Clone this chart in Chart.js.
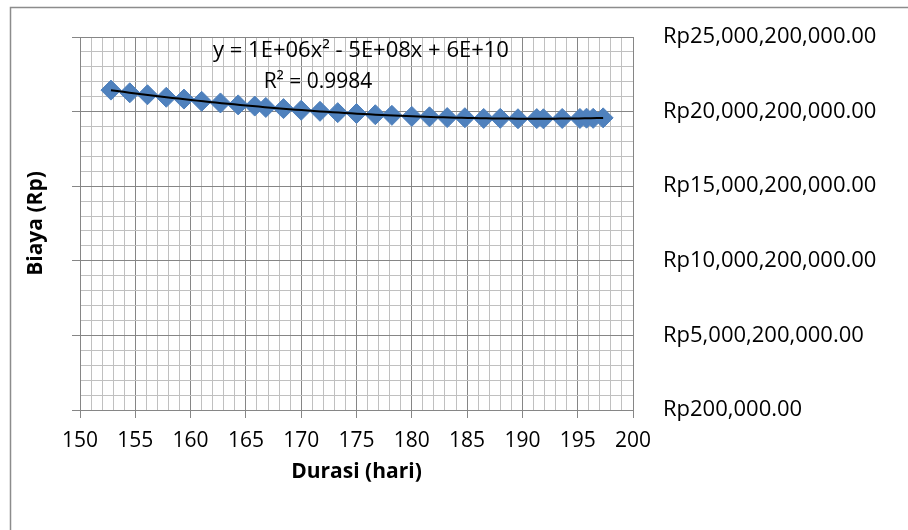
<!DOCTYPE html>
<html><head><meta charset="utf-8">
<script src="https://cdn.jsdelivr.net/npm/chart.js@4"></script>
<style>html,body{margin:0;padding:0;background:#fff}#wrap{width:908px;height:530px;position:relative}</style>
</head><body><div id="wrap"><canvas id="c" width="908" height="530"></canvas></div>
<script>
// ---- data ----
const durasi = [152.8,154.5,156.1,157.8,159.4,161.0,162.7,164.3,165.8,166.8,168.4,170.0,171.7,173.3,175.0,176.7,178.2,180.0,181.6,183.2,184.8,186.5,188.0,189.6,191.3,191.9,193.6,195.2,195.8,196.4,197.3];
const biaya = [21440000000,21260000000,21130000000,20960000000,20840000000,20690000000,20580000000,20450000000,20370000000,20280000000,20200000000,20090000000,20020000000,19930000000,19870000000,19790000000,19750000000,19680000000,19650000000,19600000000,19590000000,19540000000,19550000000,19520000000,19530000000,19520000000,19540000000,19540000000,19560000000,19550000000,19580000000];
const xMin = 150, xMax = 200, xMajor = 5, xMinor = 1;
const yTickValues = [200000,5000200000,10000200000,15000200000,20000200000,25000200000];
const yMinorStep = 1000000000;
const trendText = ['y = 1E+06x\u00B2 - 5E+08x + 6E+10', 'R\u00B2 = 0.9984'];
const xTitle = 'Durasi (hari)';
const yTitle = 'Biaya (Rp)';

// ---- quadratic least-squares trendline (as Excel does) ----
function fitQuad(xs, ys){
  const c = 175, n = xs.length;
  let S=[0,0,0,0,0], T=[0,0,0];
  for(let i=0;i<n;i++){const u=xs[i]-c;let p=1;for(let k=0;k<5;k++){S[k]+=p;p*=u;}T[0]+=ys[i];T[1]+=ys[i]*u;T[2]+=ys[i]*u*u;}
  const A=[[S[0],S[1],S[2],T[0]],[S[1],S[2],S[3],T[1]],[S[2],S[3],S[4],T[2]]];
  for(let i=0;i<3;i++){for(let j=i+1;j<3;j++){const f=A[j][i]/A[i][i];for(let k=i;k<4;k++)A[j][k]-=f*A[i][k];}}
  const r=[0,0,0];
  for(let i=2;i>=0;i--){let s=A[i][3];for(let k=i+1;k<3;k++)s-=A[i][k]*r[k];r[i]=s/A[i][i];}
  return x=>{const u=x-c;return r[0]+r[1]*u+r[2]*u*u;};
}
const fq = fitQuad(durasi, biaya);
const x0 = Math.min(...durasi), x1 = Math.max(...durasi);
const trendPts = [];
for(let i=0;i<=80;i++){const x=x0+(x1-x0)*i/80;trendPts.push({x:x,y:fq(x)});}

const yMin = yTickValues[0], yMax = yTickValues[yTickValues.length-1];
const MAJOR='#868686', MINOR='#c0c0c0';
const FONT="'Open Sans', sans-serif";

const bgPlugin = {
  id:'bg',
  beforeDraw(chart){const c=chart.ctx;c.save();c.fillStyle='#fff';c.fillRect(0,0,chart.width,chart.height);
    c.strokeStyle='#8c8c8c';c.lineWidth=1.5;c.strokeRect(10.5,7.5,1200,1200);c.restore();}
};
const eqPlugin = {
  id:'eq',
  afterDatasetsDraw(chart){const c=chart.ctx;c.save();
    c.fillStyle='#000';c.textAlign='center';c.textBaseline='middle';
    c.font="22px "+FONT;c.fillText(trendText[0], 361, 51);
    c.font="21px "+FONT;c.fillText(trendText[1], 318, 82);
    c.restore();}
};
const noPad = s=>{s.paddingTop=0;s.paddingBottom=0;};

new Chart(document.getElementById('c'), {
  data:{datasets:[
    {type:'line', data:trendPts, borderColor:'#000', borderWidth:2, pointRadius:0, fill:false, order:0, tension:0},
    {type:'scatter', data:durasi.map((d,i)=>({x:d,y:biaya[i]})), pointStyle:'rectRot', pointRadius:10, pointHoverRadius:10,
     backgroundColor:'#4f81bd', borderColor:'#4f81bd', borderWidth:1, order:1}
  ]},
  options:{
    responsive:false, animation:false, devicePixelRatio:1,
    layout:{padding:{top:37,left:0,right:0,bottom:0}},
    plugins:{legend:{display:false}, tooltip:{enabled:false}},
    scales:{
      x:{type:'linear', position:'bottom', min:xMin, max:xMax,
        afterBuildTicks:s=>{const t=[];for(let v=xMin;v<=xMax;v+=xMinor)t.push({value:v});s.ticks=t;},
        ticks:{autoSkip:false, maxRotation:0, padding:10, color:'#000', font:{family:FONT,size:21},
          callback:v=> (v%xMajor===0? String(v):'')},
        grid:{color:c=>(c.tick && c.tick.value%xMajor===0?MAJOR:MINOR), tickColor:c=>(c.tick && c.tick.value%xMajor===0?MAJOR:'rgba(0,0,0,0)'), tickLength:8, lineWidth:1},
        border:{color:MAJOR, width:1},
        title:{display:true, text:xTitle, color:'#000', font:{family:FONT,size:21,weight:'bold'}, padding:{top:0,bottom:45}},
        afterFit:s=>{s.height=120;s.paddingLeft=0;s.paddingRight=0;}
      },
      y:{type:'linear', position:'left', min:yMin, max:yMax,
        afterBuildTicks:s=>{const t=[];for(let v=yMin;v<=yMax+1;v+=yMinorStep)t.push({value:v});s.ticks=t;},
        ticks:{display:false},
        grid:{color:c=>(c.tick && Math.round((c.tick.value-yMin)/yMinorStep)%5===0?MAJOR:MINOR), tickColor:c=>(c.tick && Math.round((c.tick.value-yMin)/yMinorStep)%5===0?MAJOR:'rgba(0,0,0,0)'), tickLength:8, lineWidth:1},
        border:{color:MAJOR, width:1},
        title:{display:true, text:yTitle, color:'#000', font:{family:FONT,size:21,weight:'bold'}, padding:{top:23,bottom:0}},
        afterFit:s=>{s.width=80;noPad(s);}
      },
      y2:{type:'linear', position:'right', min:yMin, max:yMax,
        afterBuildTicks:s=>{s.ticks=yTickValues.map(v=>({value:v}));},
        ticks:{padding:30, color:'#000', font:{family:FONT,size:22},
          callback:v=>'Rp'+Number(v).toLocaleString('en-US',{minimumFractionDigits:2,maximumFractionDigits:2})},
        grid:{display:false, drawTicks:false, drawOnChartArea:false},
        border:{display:false},
        afterFit:s=>{s.width=275;noPad(s);}
      }
    }
  },
  plugins:[bgPlugin, eqPlugin]
});
</script></body></html>
